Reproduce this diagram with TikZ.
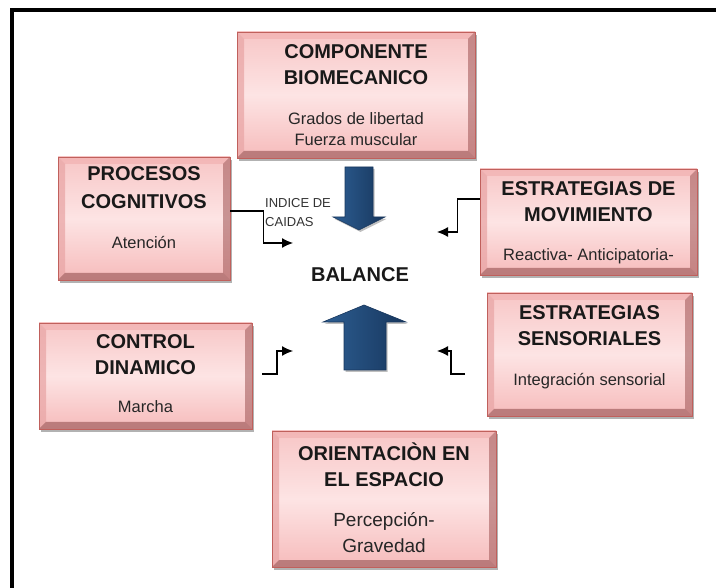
\documentclass[tikz,border=0pt]{standalone}
\usepackage{fontspec}
\setmainfont{Liberation Sans}
\usetikzlibrary{shadows,arrows.meta}
\definecolor{pinkTop}{HTML}{F7C6C6}
\definecolor{pinkMid}{HTML}{FDE4E4}
\definecolor{pinkBot}{HTML}{F6BBBB}
\definecolor{boxborder}{HTML}{C0605C}
\definecolor{bevTop}{HTML}{F2B4B4}
\definecolor{bevLeft}{HTML}{E9A6A6}
\definecolor{bevRight}{HTML}{A65E5E}
\definecolor{bevBot}{HTML}{945050}
\definecolor{navyL}{HTML}{2D5E92}
\definecolor{navyD}{HTML}{17365D}
\tikzset{
  x=1pt, y=-1pt,
  box/.style={rectangle, draw=boxborder, line width=0.8pt, inner sep=0pt,
    top color=pinkTop, bottom color=pinkBot, middle color=pinkMid,
    drop shadow={shadow xshift=2pt, shadow yshift=-3pt, fill=black, opacity=0.3},
    path picture={
      \fill[bevTop, opacity=0.8] (path picture bounding box.north west) -- (path picture bounding box.north east)
        -- ([xshift=-7pt,yshift=-7pt]path picture bounding box.north east) -- ([xshift=7pt,yshift=-7pt]path picture bounding box.north west) -- cycle;
      \fill[bevLeft, opacity=0.75] (path picture bounding box.north west) -- (path picture bounding box.south west)
        -- ([xshift=7pt,yshift=7pt]path picture bounding box.south west) -- ([xshift=7pt,yshift=-7pt]path picture bounding box.north west) -- cycle;
      \fill[bevRight, opacity=0.6] (path picture bounding box.north east) -- (path picture bounding box.south east)
        -- ([xshift=-7pt,yshift=7pt]path picture bounding box.south east) -- ([xshift=-7pt,yshift=-7pt]path picture bounding box.north east) -- cycle;
      \fill[bevBot, opacity=0.6] (path picture bounding box.south west) -- (path picture bounding box.south east)
        -- ([xshift=-7pt,yshift=7pt]path picture bounding box.south east) -- ([xshift=7pt,yshift=7pt]path picture bounding box.south west) -- cycle;
    }},
  ttl/.style={align=center, inner sep=0pt, font=\fontsize{20}{26}\selectfont\bfseries, text=black!90},
  sub/.style={align=center, inner sep=0pt, font=\fontsize{16.5}{21}\selectfont, text=black!85},
  conn/.style={draw=black, line width=1.2pt, -{Latex[length=11pt,width=10pt]}},
  bigarrow/.style={left color=navyL, right color=navyD, draw=navyD, line width=0.6pt,
    drop shadow={shadow xshift=1.5pt, shadow yshift=-2pt, fill=black, opacity=0.25}}
}
\begin{document}
\begin{tikzpicture}
\useasboundingbox (0,0) rectangle (716,588);
\fill[white] (0,0) rectangle (716,588);
% frame
\draw[line width=4pt, line join=miter] (12,588) -- (12,10) -- (716,10);

% boxes
\node[box, minimum width=238pt, minimum height=126pt] (comp) at (356,95) {};
\node[box, minimum width=172pt, minimum height=123pt] (proc) at (144,218.5) {};
\node[box, minimum width=217pt, minimum height=106pt] (mov) at (588.5,222) {};
\node[box, minimum width=213pt, minimum height=106pt] (ctrl) at (145.5,376) {};
\node[box, minimum width=205pt, minimum height=123pt] (sens) at (589.5,354.5) {};
\node[box, minimum width=224pt, minimum height=136pt] (orient) at (384,499) {};

% texts
\node[ttl] (compT) at (356,65) {COMPONENTE\\BIOMECANICO};
\node[sub] (compS) at (356,129.5) {Grados de libertad\\Fuerza muscular};
\node[ttl, font=\fontsize{20}{28}\selectfont\bfseries] (procT) at (144,188) {PROCESOS\\COGNITIVOS};
\node[sub] (procS) at (144,243) {Atención};
\node[ttl] (movT) at (588.5,201.5) {ESTRATEGIAS DE\\MOVIMIENTO};
\node[sub] (movS) at (588.5,256) {Reactiva- Anticipatoria-};
\node[ttl] (ctrlT) at (145.5,355) {CONTROL\\DINAMICO};
\node[sub] (ctrlS) at (145.5,407) {Marcha};
\node[ttl] (sensT) at (589.5,326) {ESTRATEGIAS\\SENSORIALES};
\node[sub] (sensS) at (589.5,381) {Integración sensorial};
\node[ttl] (orientT) at (384,464.5) {ORIENTACIÒN EN\\EL ESPACIO};
\node[sub, font=\fontsize{19}{26}\selectfont] (orientS) at (384,533) {Percepción-\\Gravedad};

\node[ttl] (bal) at (360,275) {BALANCE};
\node[align=left, anchor=west, inner sep=0pt, font=\fontsize{13}{19}\selectfont, text=black!80] (ind) at (265,212.5) {INDICE DE\\CAIDAS};

% big arrows
\path[bigarrow] (345,167) -- (373,167) -- (373,217) -- (385,217) -- (359,230) -- (333,217) -- (345,217) -- cycle;
\path[bigarrow] (344,370) -- (386,370) -- (386,322) -- (406,322) -- (364,305) -- (323,322) -- (344,322) -- cycle;

% connector ends
\coordinate (e1) at (293,243);
\coordinate (e2) at (437,232);
\coordinate (s3) at (262,374);
\coordinate (e3) at (293,351);
\coordinate (s4) at (465,374);
\coordinate (e4) at (437,351);

\draw[conn] ([yshift=7.5pt]proc.east) -- ++(33,0) |- (e1);
\draw[conn] ([yshift=23pt]mov.west) -- ++(-22,0) |- (e2);
\draw[conn] (s3) -- ++(15,0) |- (e3);
\draw[conn] (s4) -- ++(-14,0) |- (e4);
\end{tikzpicture}
\end{document}
